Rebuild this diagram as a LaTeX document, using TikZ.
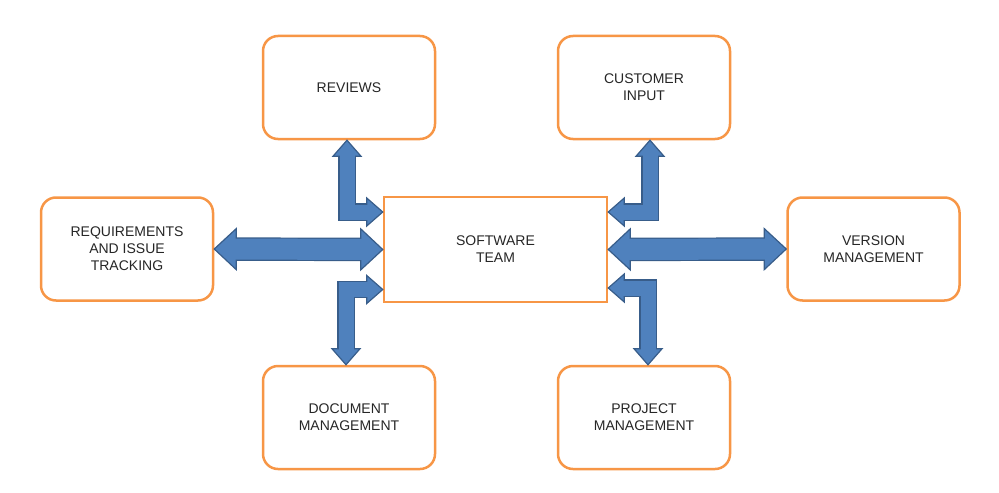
\documentclass[tikz,border=0pt]{standalone}
\usepackage{fontspec}
\setmainfont{Liberation Sans}
\usepackage{xcolor}
\usetikzlibrary{calc}

\definecolor{boxorange}{HTML}{F79646}
\definecolor{arrowblue}{HTML}{4F81BD}
\definecolor{arrowedge}{HTML}{385D8A}

\tikzset{
  box/.style={draw=boxorange, line width=1.25pt, rounded corners=7.5pt, fill=white,
    minimum width=86pt, minimum height=51.5pt, align=center,
    font=\fontsize{7}{8.5}\selectfont, text=black!85},
  teambox/.style={box, rounded corners=0pt, minimum width=111.5pt, minimum height=52.5pt},
  arrowline/.style={draw=arrowedge, line join=miter, line cap=butt},
  arrowbody/.style={fill=arrowblue, draw=arrowedge, line width=0.6pt, line join=miter},
}

% arrow head: tip, point on shaft, half head width, head length
\newcommand\fathead[4]{%
  \coordinate (fh) at ($(#1)!#4!(#2)$);
  \filldraw[arrowbody] (#1) -- ($(fh)!#3!90:(#1)$) -- ($(fh)!#3!-90:(#1)$) -- cycle;
}

% straight block arrow: tip, tip, shaft width, half head width, head length
\newcommand\fatarrow[5]{%
  \coordinate (fa1) at ($(#1)!#5!(#2)$);
  \coordinate (fa2) at ($(#2)!#5!(#1)$);
  \draw[arrowline, line width=#3+1.2pt] (fa1) -- (fa2);
  \fathead{#1}{#2}{#4}{#5}
  \fathead{#2}{#1}{#4}{#5}
  \draw[line width=#3, draw=arrowblue, line cap=butt]
    ($(fa1)!1pt!(#1)$) -- ($(fa2)!1pt!(#2)$);
}

% bent block arrow: tip, bend, tip, shaft width, half head width, head length
\newcommand\bentarrow[6]{%
  \coordinate (fa1) at ($(#1)!#6!(#2)$);
  \coordinate (fa2) at ($(#3)!#6!(#2)$);
  \draw[arrowline, line width=#4+1.2pt] (fa1) -- (#2) -- (fa2);
  \fathead{#1}{#2}{#5}{#6}
  \fathead{#3}{#2}{#5}{#6}
  \draw[line width=#4, draw=arrowblue, line join=miter, line cap=butt]
    ($(fa1)!1pt!(#1)$) -- (#2) -- ($(fa2)!1pt!(#3)$);
}

\begin{document}
\begin{tikzpicture}[x=0.5pt,y=-0.5pt]
\useasboundingbox (0,0) rectangle (999,492);

% Boxes
\node[box] (rev) at (349,87.5) {REVIEWS};
\node[box] (cust) at (644,87.5) {CUSTOMER\\INPUT};
\node[box] (req) at (127,249) {REQUIREMENTS\\AND ISSUE\\TRACKING};
\node[teambox] (team) at (495.5,249.5) {SOFTWARE\\TEAM};
\node[box] (ver) at (873.5,249) {VERSION\\MANAGEMENT};
\node[box] (doc) at (349,417.5) {DOCUMENT\\MANAGEMENT};
\node[box] (proj) at (644,417.5) {PROJECT\\MANAGEMENT};

% Arrow ends
\coordinate (revtip) at ($(rev.south)+(-2,0)$);
\coordinate (revin) at ($(team.west)+(0,-37.5)$);
\coordinate (revbend) at (revtip |- revin);
\coordinate (custtip) at ($(cust.south)+(6,0)$);
\coordinate (custin) at ($(team.east)+(0,-37.5)$);
\coordinate (custbend) at (custtip |- custin);
\coordinate (doctip) at ($(doc.north)+(-3,0)$);
\coordinate (docin) at ($(team.west)+(0,40)$);
\coordinate (docbend) at (doctip |- docin);
\coordinate (projtip) at ($(proj.north)+(4,0)$);
\coordinate (projin) at ($(team.east)+(0,38.5)$);
\coordinate (projbend) at (projtip |- projin);

% Straight arrows
\fatarrow{req.east}{team.west}{10.5pt}{10.25pt}{11pt}
\fatarrow{team.east}{ver.west}{10.5pt}{10.25pt}{11pt}

% Bent arrows
\bentarrow{revtip}{revbend}{revin}{7.5pt}{7pt}{8pt}
\bentarrow{custtip}{custbend}{custin}{7.5pt}{7pt}{8pt}
\bentarrow{doctip}{docbend}{docin}{7.5pt}{7pt}{8pt}
\bentarrow{projtip}{projbend}{projin}{7.5pt}{7pt}{8pt}
\end{tikzpicture}
\end{document}
